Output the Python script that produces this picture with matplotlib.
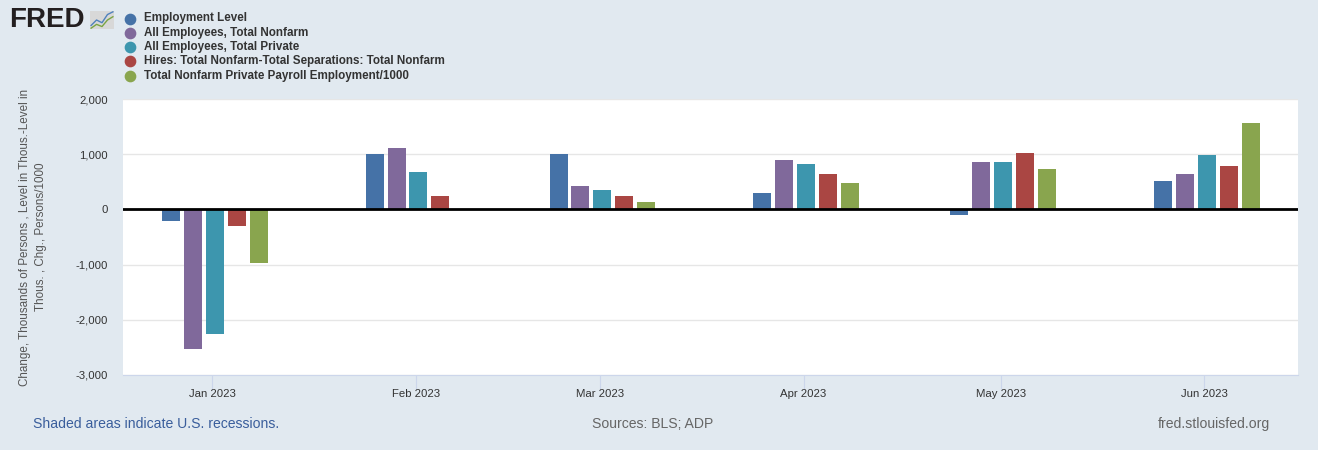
import numpy as np
import matplotlib.pyplot as plt
import matplotlib.dates as mdates
from matplotlib.lines import Line2D
from matplotlib.ticker import FuncFormatter

plt.rcParams['font.family'] = ['Liberation Sans', 'DejaVu Sans']

# data (changes, thousands)
months = ['2023-01-01', '2023-02-01', '2023-03-01', '2023-04-01', '2023-05-01', '2023-06-01']
month_labels = ['Jan 2023', 'Feb 2023', 'Mar 2023', 'Apr 2023', 'May 2023', 'Jun 2023']
employment_level = [-210, 1000, 1000, 295, -100, 510]
total_nonfarm = [-2530, 1110, 430, 890, 850, 650]
total_private = [-2260, 680, 350, 815, 850, 990]
hires_minus_seps = [-295, 245, 250, 650, 1030, 795]
adp_private = [-980, np.nan, 140, 475, 725, 1570]

series_names = ['Employment Level',
                'All Employees, Total Nonfarm',
                'All Employees, Total Private',
                'Hires: Total Nonfarm-Total Separations: Total Nonfarm',
                'Total Nonfarm Private Payroll Employment/1000']
series_vals = [employment_level, total_nonfarm, total_private, hires_minus_seps, adp_private]
colors = ['#4572a7', '#80699b', '#3d96ae', '#aa4643', '#89a54e']

bg = '#e1e9f0'

fig = plt.figure(figsize=(13.18, 4.5), dpi=100, facecolor=bg)
ax = fig.add_axes([123/1318, 1-375/450, (1298-123)/1318, (375-99)/450])
ax.set_facecolor('white')

x = mdates.datestr2num(months)
step = 3.34     # days between bars in a group
width = 2.74    # bar width in days
for i, (vals, c) in enumerate(zip(series_vals, colors)):
    ax.bar(x + 0.38 + (i-2)*step, vals, width=width, color=c, zorder=3, linewidth=0)

ax.set_xlim(x[0]-13.6, x[-1]+14.26)
ax.set_ylim(-3000, 2000)
ax.set_yticks(np.arange(-3000, 2001, 1000))
ax.yaxis.set_major_formatter(FuncFormatter(lambda v, p: f'{int(v):,}'))
ax.grid(axis='y', color='#e6e6e6', linewidth=1, zorder=0)
ax.axhline(0, color='black', linewidth=2, zorder=4)

ax.set_xticks(x)
ax.set_xticklabels(month_labels)
for s in ['top', 'right', 'left']:
    ax.spines[s].set_visible(False)
ax.spines['bottom'].set_color('#ccd6eb')
ax.tick_params(axis='x', length=10, color='#ccd6eb', pad=0, labelsize=8.2, labelcolor='#333333')
ax.tick_params(axis='y', length=0, pad=11, labelsize=8.2, labelcolor='#333333')

ax.set_ylabel('Change, Thousands of Persons , Level in Thous.-Level in\nThous. , Chg., Persons/1000',
              fontsize=8.4, color='#555555', linespacing=1.45)
ax.yaxis.set_label_coords(-0.065, 0.5)

# legend
for i, (name, c) in enumerate(zip(series_names, colors)):
    yy = 1 - (18.5 + i*14.3)/450
    fig.add_artist(Line2D([130/1318], [yy], marker='o', markersize=7.4, color=c,
                          linestyle='none', transform=fig.transFigure))
    fig.text(144/1318, yy, name, fontsize=8.4, fontweight='bold', color='#333333', va='center')

# FRED logo
fig.text(9/1318, 1-20/450, 'FRED', fontsize=20, fontweight='heavy', color='#231f20', va='center')
logo = fig.add_axes([90/1318, 1-29/450, 24/1318, 18/450])
logo.set_facecolor('#d8d8d8')
logo.plot([0, 1, 2, 3, 4], [1, 2, 1.5, 3, 3.5], color='#4f81bd', linewidth=1)
logo.plot([0, 1, 2, 3, 4], [0.5, 1.2, 0.8, 2, 2.6], color='#7aa443', linewidth=1)
logo.set_xticks([])
logo.set_yticks([])
for s in logo.spines.values():
    s.set_visible(False)

# footer
fig.text(33/1318, 1-424/450, 'Shaded areas indicate U.S. recessions.', fontsize=10.1,
         color='#3a5e9c', va='center')
fig.text(653/1318, 1-424/450, 'Sources: BLS; ADP', fontsize=10.1, color='#666666',
         va='center', ha='center')
fig.text(1270/1318, 1-424/450, 'fred.stlouisfed.org', fontsize=10.1, color='#666666',
         va='center', ha='right')

fig.savefig('out.png', dpi=100, facecolor=bg)
